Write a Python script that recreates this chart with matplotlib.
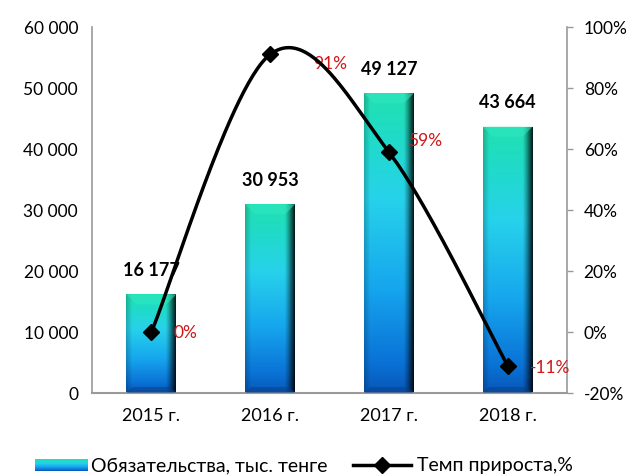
import numpy as np
import matplotlib
matplotlib.use("Agg")
import matplotlib.pyplot as plt
from matplotlib.patches import Polygon
from matplotlib.lines import Line2D
from matplotlib.colors import LinearSegmentedColormap

plt.rcParams['font.family'] = ['Lato', 'DejaVu Sans']

categories = ["2015 г.", "2016 г.", "2017 г.", "2018 г."]
liabilities = [16177, 30953, 49127, 43664]
growth = [0.0, 0.91, 0.59, -0.11]
growth_labels = ["0%", "91%", "59%", "-11%"]
bar_series_name = "Обязательства, тыс. тенге"
line_series_name = "Темп прироста,%"

W, H = 634, 477
fig = plt.figure(figsize=(W / 100, H / 100), dpi=100)
ax = fig.add_axes([92 / W, 1 - 394 / H, (567 - 92) / W, (394 - 28) / H])
ax2 = ax.twinx()

x = np.arange(len(categories))
bw = 0.42

vstops = [(0.0, "#22e0b0"), (0.12, "#1fdcc4"), (0.35, "#27d2ea"),
          (0.65, "#16a6ee"), (0.9, "#0a72d6"), (1.0, "#0758b8")]
vcmap = LinearSegmentedColormap.from_list("v", vstops)


def bar_image(nrows=200, ncols=60):
    t = np.linspace(0, 1, nrows)
    col = vcmap(t)[:, :3]
    img = np.repeat(col[:, None, :], ncols, axis=1)
    u = np.linspace(0, 1, ncols)
    shade = np.ones(ncols)
    shade = shade - 0.88 * np.clip((u - 0.80) / 0.20, 0, 1) ** 1.2
    shade = shade - 0.2 * np.clip((0.12 - u) / 0.12, 0, 1)
    img = img * shade[None, :, None]
    return np.clip(img, 0, 1)


bars = ax.bar(x, liabilities, width=bw, color="none", edgecolor="none", zorder=2)
img = bar_image()
dx = 10 / 118.75          # bevel width in category units (~10 px)
dy = 10 / 366 * 60000     # bevel height in data units (~10 px)
for b in bars:
    x0, y0 = b.get_x(), b.get_y()
    w, h = b.get_width(), b.get_height()
    im = ax.imshow(img, extent=[x0, x0 + w, y0, y0 + h], aspect="auto",
                   origin="upper", zorder=2, interpolation="bilinear")
    im.set_clip_path(b)
    top = y0 + h
    ax.add_patch(Polygon([(x0, top), (x0 + w, top), (x0 + w - dx, top - dy),
                          (x0 + dx, top - dy)], closed=True,
                         facecolor="#30e8c4", edgecolor="none", alpha=0.55, zorder=3))
    ax.add_patch(Polygon([(x0, y0), (x0 + w, y0), (x0 + w - dx * 0.6, y0 + dy * 0.6),
                          (x0 + dx * 0.6, y0 + dy * 0.6)], closed=True,
                         facecolor="#0a3f8a", edgecolor="none", alpha=0.5, zorder=3))

for xi, v in zip(x, liabilities):
    ax.annotate(f"{v:,}".replace(",", " "), (xi, v), xytext=(0, 12),
                textcoords="offset points", ha="center", va="bottom",
                fontsize=13, fontweight="bold", color="black")

ax.set_xlim(-0.5, len(categories) - 0.5)
ax.set_ylim(0, 60000)
yt = np.arange(0, 60001, 10000)
ax.set_yticks(yt)
ax.set_yticklabels([f"{int(v):,}".replace(",", " ") for v in yt])
ax.set_xticks(x)
ax.set_xticklabels(categories)
ax.tick_params(axis="y", length=0, labelsize=12.5, pad=10)
ax.tick_params(axis="x", length=0, labelsize=13, pad=10)

# smoothed line (Bezier through the points, spreadsheet-style smoothing)
P = np.column_stack([x.astype(float), growth])
pts = []
n = len(P)
for i in range(n - 1):
    p0 = P[i - 1] if i > 0 else P[i]
    p1, p2 = P[i], P[i + 1]
    p3 = P[i + 2] if i + 2 < n else P[i + 1]
    c1 = p1 + (p2 - p0) / 6
    c2 = p2 - (p3 - p1) / 6
    t = np.linspace(0, 1, 60)[:, None]
    seg = (1 - t) ** 3 * p1 + 3 * (1 - t) ** 2 * t * c1 + 3 * (1 - t) * t ** 2 * c2 + t ** 3 * p2
    pts.append(seg)
curve = np.vstack(pts)
ax2.plot(curve[:, 0], curve[:, 1], color="black", lw=2.5, zorder=5)
ax2.plot(x, growth, ls="none", marker="D", ms=8, color="black", zorder=6)

offsets = [(16, 0), (31, -6), (14, 9), (16, -1)]
for xi, g, lab, off in zip(x, growth, growth_labels, offsets):
    ax2.annotate(lab, (xi, g), xytext=off, textcoords="offset points",
                 ha="left", va="center", fontsize=12.5, color="#d01818")

ax2.set_ylim(-0.2, 1.0)
rt = np.arange(-0.2, 1.01, 0.2)
ax2.set_yticks(rt)
ax2.set_yticklabels([f"{int(round(v * 100))}%" for v in rt])
ax2.tick_params(axis="y", length=4, width=1, color="#9a9a9a", labelsize=12.5, pad=8)

for a in (ax, ax2):
    a.spines["top"].set_visible(False)
ax.spines["right"].set_visible(False)
ax2.spines["left"].set_visible(False)
ax2.spines["bottom"].set_visible(False)
ax.spines["left"].set_color("#9a9a9a")
ax.spines["left"].set_linewidth(1.2)
ax.spines["bottom"].set_color("#9a9a9a")
ax.spines["bottom"].set_linewidth(1.5)
ax2.spines["right"].set_color("#9a9a9a")
ax2.spines["right"].set_linewidth(1.2)
ax.set_zorder(1)
ax2.set_zorder(2)
ax2.patch.set_visible(False)

# legend (manual)
ly = 1 - 466 / H
lax = fig.add_axes([35 / W, 1 - 472 / H, (88 - 35) / W, 12 / H])
limg = vcmap(np.linspace(0, 1, 40))[:, :3]
limg = np.repeat(limg[:, None, :], 20, axis=1)
lax.imshow(limg, aspect="auto", extent=[0, 1, 0, 1], origin="upper", interpolation="bilinear")
lax.axis("off")
fig.text(91 / W, ly, bar_series_name, ha="left", va="center", fontsize=14)
fig.add_artist(Line2D([353 / W, 411 / W], [ly, ly], color="black", lw=2.5,
                      transform=fig.transFigure))
fig.add_artist(Line2D([382 / W], [ly], marker="D", ms=8, color="black",
                      transform=fig.transFigure))
fig.text(417 / W, ly, line_series_name, ha="left", va="center", fontsize=14)

fig.savefig("out.png", dpi=100)
